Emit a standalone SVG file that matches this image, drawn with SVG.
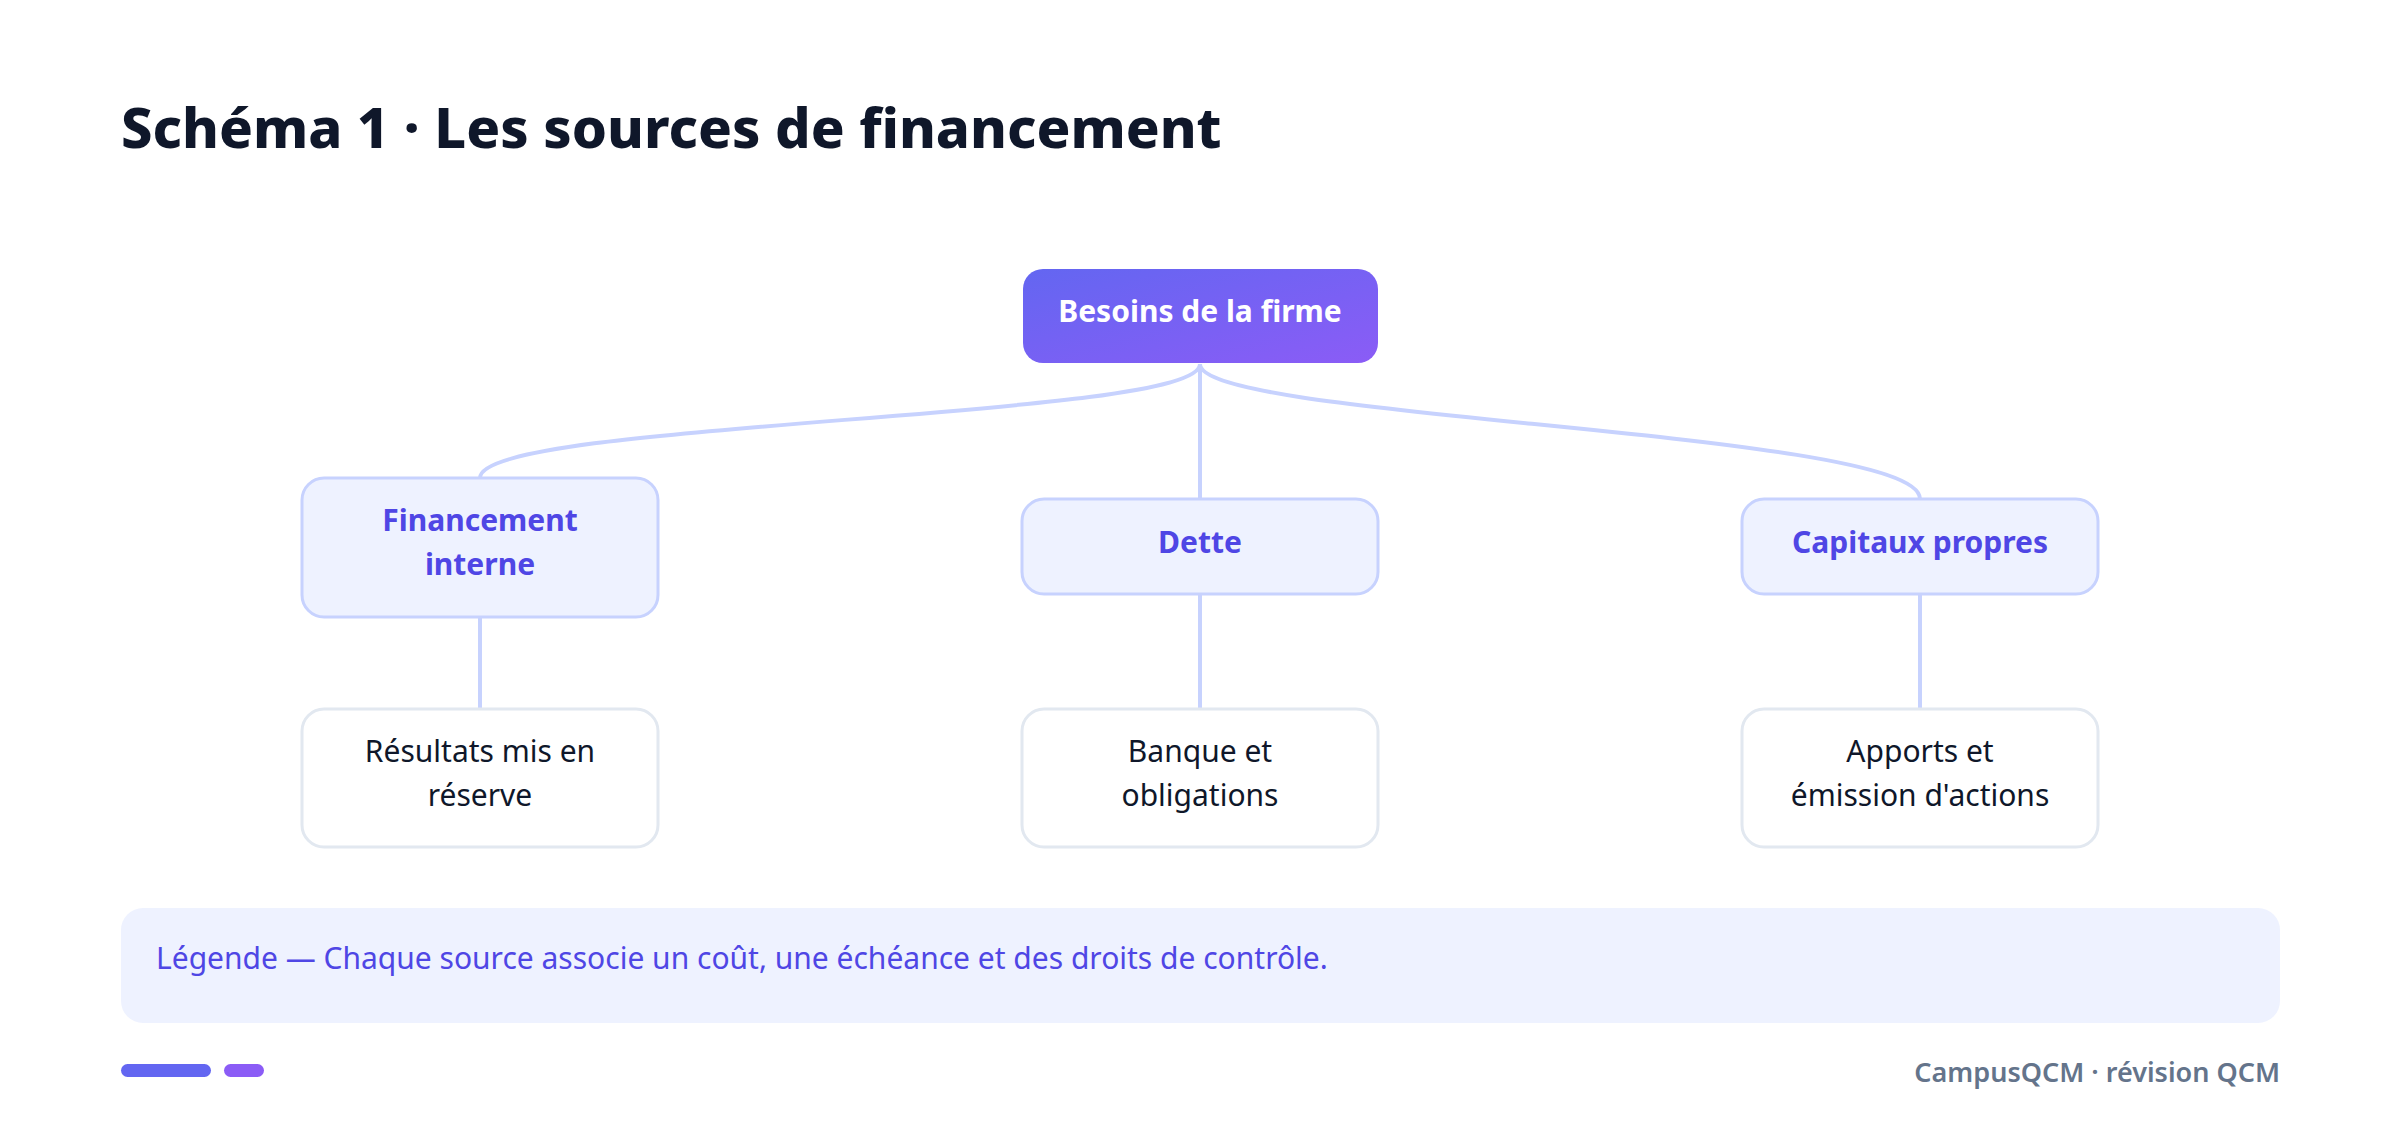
<svg xmlns="http://www.w3.org/2000/svg" width="2400" height="1133" viewBox="0 0 2400 1133">
<defs>
<linearGradient id="g" x1="0" y1="0" x2="1" y2="1"><stop offset="0" stop-color="#6366f1"/><stop offset="1" stop-color="#8b5cf6"/></linearGradient>
<style>
text{font-family:"Noto Sans","Open Sans",sans-serif}
.l2{fill:#eef2ff;stroke:#c7d2fe;stroke-width:3}
.l3{fill:#fff;stroke:#e2e8f0;stroke-width:3}
.t2{font-size:30px;font-weight:700;fill:#4f46e5;text-anchor:middle}
.t3{font-size:30px;fill:#0f172a;text-anchor:middle}
.c{fill:none;stroke:#c7d2fe;stroke-width:4}
</style>
</defs>
<rect width="2400" height="1133" fill="#fff"/>
<text x="121" y="148" font-size="56" font-weight="800" fill="#0f172a">Schéma 1 · Les sources de financement</text>
<g id="connectors">
<path class="c" d="M1200 364 C1200 420 480 420 480 478"/>
<path class="c" d="M1200 364 L1200 499"/>
<path class="c" d="M1200 364 C1200 420 1920 430 1920 499"/>
<path class="c" d="M480 617 L480 709"/>
<path class="c" d="M1200 594 L1200 709"/>
<path class="c" d="M1920 594 L1920 709"/>
</g>
<g id="root"><rect x="1023" y="269" width="355" height="94" rx="20" fill="url(#g)"/><text x="1200" y="322" font-size="30" font-weight="700" fill="#fff" text-anchor="middle">Besoins de la firme</text></g>
<g id="interne"><rect class="l2" x="302" y="478" width="356" height="139" rx="22"/><text class="t2" x="480" y="531">Financement</text><text class="t2" x="480" y="575">interne</text></g>
<g id="dette"><rect class="l2" x="1022" y="499" width="356" height="95" rx="22"/><text class="t2" x="1200" y="553">Dette</text></g>
<g id="capitaux"><rect class="l2" x="1742" y="499" width="356" height="95" rx="22"/><text class="t2" x="1920" y="553">Capitaux propres</text></g>
<g id="resultats"><rect class="l3" x="302" y="709" width="356" height="138" rx="22"/><text class="t3" x="480" y="762">Résultats mis en</text><text class="t3" x="480" y="806">réserve</text></g>
<g id="banque"><rect class="l3" x="1022" y="709" width="356" height="138" rx="22"/><text class="t3" x="1200" y="762">Banque et</text><text class="t3" x="1200" y="806">obligations</text></g>
<g id="apports"><rect class="l3" x="1742" y="709" width="356" height="138" rx="22"/><text class="t3" x="1920" y="762">Apports et</text><text class="t3" x="1920" y="806">émission d'actions</text></g>
<g id="legend"><rect x="121" y="908" width="2159" height="115" rx="22" fill="#eef2ff"/><text x="156" y="969" font-size="30" fill="#4f46e5">Légende — Chaque source associe un coût, une échéance et des droits de contrôle.</text></g>
<rect x="121" y="1064" width="90" height="13" rx="6.5" fill="#6366f1"/>
<rect x="224" y="1064" width="40" height="13" rx="6.5" fill="#8b5cf6"/>
<text x="2280" y="1082" font-size="27" font-weight="600" fill="#64748b" text-anchor="end">CampusQCM · révision QCM</text>
</svg>
